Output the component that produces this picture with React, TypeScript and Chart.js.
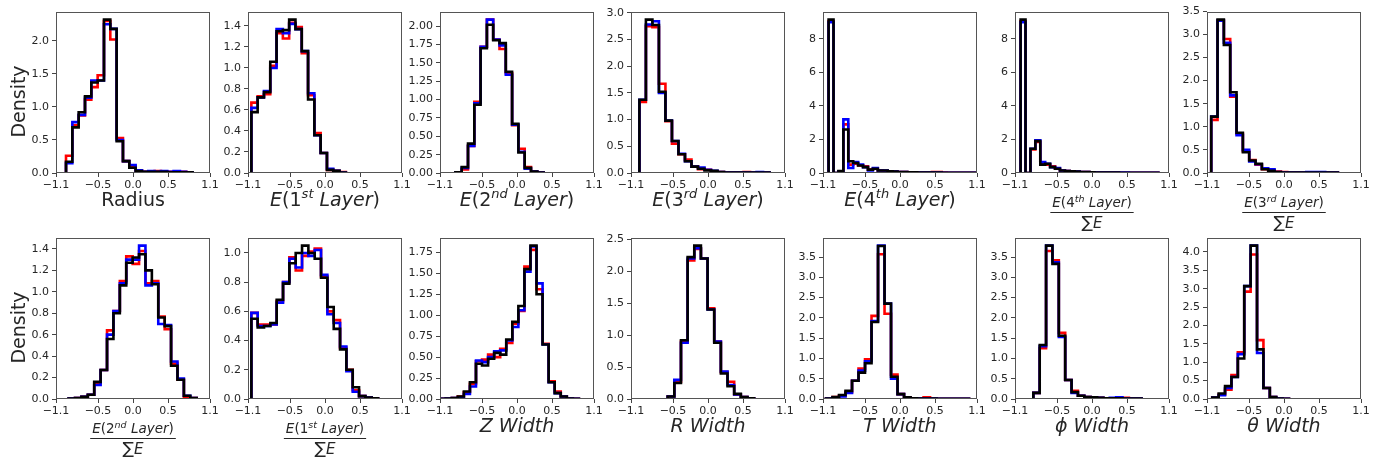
import React, { useEffect, useRef } from "react";
import { Chart, registerables } from "chart.js";
Chart.register(...registerables);

// ---------- axis ticks ----------
const X_TICKS = [-1.1, -0.5, 0, 0.5, 1.1];
const X_TICK_LABELS = ["\u22121.1", "\u22120.5", "0.0", "0.5", "1.1"];

const Y_TICKS_RADIUS = ["0.0", "0.5", "1.0", "1.5", "2.0"];
const Y_TICKS_E1 = ["0.0", "0.2", "0.4", "0.6", "0.8", "1.0", "1.2", "1.4"];
const Y_TICKS_E2 = ["0.00", "0.25", "0.50", "0.75", "1.00", "1.25", "1.50", "1.75", "2.00"];
const Y_TICKS_E3 = ["0.0", "0.5", "1.0", "1.5", "2.0", "2.5", "3.0"];
const Y_TICKS_E4 = ["0", "2", "4", "6", "8"];
const Y_TICKS_E4F = ["0", "2", "4", "6", "8"];
const Y_TICKS_E3F = ["0.0", "0.5", "1.0", "1.5", "2.0", "2.5", "3.0", "3.5"];
const Y_TICKS_E2F = ["0.0", "0.2", "0.4", "0.6", "0.8", "1.0", "1.2", "1.4"];
const Y_TICKS_E1F = ["0.0", "0.2", "0.4", "0.6", "0.8", "1.0"];
const Y_TICKS_ZW = ["0.00", "0.25", "0.50", "0.75", "1.00", "1.25", "1.50", "1.75"];
const Y_TICKS_RW = ["0.0", "0.5", "1.0", "1.5", "2.0", "2.5"];
const Y_TICKS_TW = ["0.0", "0.5", "1.0", "1.5", "2.0", "2.5", "3.0", "3.5"];
const Y_TICKS_PW = ["0.0", "0.5", "1.0", "1.5", "2.0", "2.5", "3.0", "3.5"];
const Y_TICKS_THW = ["0.0", "0.5", "1.0", "1.5", "2.0", "2.5", "3.0", "3.5", "4.0"];

// ---------- histogram bins (first edge, bin width) ----------
const BIN_START = [-0.957, -1.052, -0.88, -0.98, -1.02, -1.02, -1.04, -0.92, -1.052, -1.105, -0.576, -1.057, -0.838, -1.025];
const BIN_WIDTH = [0.0904, 0.09, 0.09, 0.093, 0.0703, 0.0703, 0.0905, 0.0915, 0.0905, 0.0865, 0.095, 0.0929, 0.091, 0.0914];

// ---------- densities ----------
const RADIUS_RED = [0.26, 0.72, 0.87, 1.11, 1.30, 1.48, 2.30, 2.02, 0.53, 0.18, 0.10, 0.04, 0.02, 0.02, 0.03, 0.02, 0.02, 0.02, 0.02, 0.01];
const RADIUS_BLUE = [0.15, 0.77, 0.88, 1.14, 1.40, 1.40, 2.25, 2.18, 0.50, 0.18, 0.12, 0.04, 0.02, 0.03, 0.02, 0.03, 0.02, 0.03, 0.02, 0.01];
const RADIUS_BLACK = [0.17, 0.69, 0.92, 1.16, 1.37, 1.40, 2.32, 2.18, 0.48, 0.18, 0.08, 0.03, 0.02, 0.02, 0.02, 0.02, 0.01, 0.01, 0.01, 0.01];

const E1_RED = [0.67, 0.73, 0.75, 1.02, 1.33, 1.28, 1.43, 1.39, 1.14, 0.74, 0.38, 0.19, 0.03, 0.02, 0.01];
const E1_BLUE = [0.62, 0.72, 0.78, 1.00, 1.37, 1.33, 1.42, 1.37, 1.16, 0.76, 0.36, 0.19, 0.04, 0.02, 0.005];
const E1_BLACK = [0.58, 0.72, 0.77, 1.06, 1.35, 1.36, 1.46, 1.37, 1.16, 0.70, 0.36, 0.19, 0.03, 0.02, 0.005];

const E2_RED = [0.01, 0.05, 0.37, 0.97, 1.72, 2.09, 1.82, 1.69, 1.36, 0.65, 0.33, 0.08, 0.02, 0.01];
const E2_BLUE = [0.01, 0.07, 0.37, 0.95, 1.72, 2.09, 1.82, 1.74, 1.34, 0.66, 0.29, 0.06, 0.02, 0.005];
const E2_BLACK = [0.01, 0.08, 0.40, 0.93, 1.70, 2.02, 1.81, 1.77, 1.38, 0.67, 0.28, 0.07, 0.02, 0.005];

const E3_RED = [1.33, 2.75, 2.73, 1.67, 0.97, 0.55, 0.35, 0.25, 0.12, 0.07, 0.06, 0.03, 0.02, 0.01, 0.01, 0.01, 0.02, 0.01, 0.01, 0.01];
const E3_BLUE = [1.37, 2.78, 2.84, 1.50, 0.98, 0.60, 0.36, 0.22, 0.12, 0.10, 0.06, 0.04, 0.02, 0.01, 0.01, 0.01, 0.01, 0.01, 0.02, 0.01];
const E3_BLACK = [1.37, 2.87, 2.77, 1.52, 0.98, 0.60, 0.35, 0.22, 0.12, 0.08, 0.05, 0.04, 0.02, 0.01, 0.01, 0.01, 0.01, 0.01, 0.01, 0.01];

const E4_RED = [9.05, 0, 0.10, 2.9, 0.5, 0.55, 0.45, 0.40, 0.20, 0.25, 0.15, 0.12, 0.10, 0.08, 0.06, 0.05, 0.04, 0.04, 0.03, 0.03, 0.03, 0.05, 0.05, 0.02, 0.01, 0.01, 0.01, 0.01, 0.01, 0.01];
const E4_BLUE = [9.0, 0, 0.10, 3.2, 0.3, 0.65, 0.50, 0.35, 0.15, 0.30, 0.15, 0.15, 0.10, 0.08, 0.06, 0.05, 0.04, 0.03, 0.03, 0.03, 0.02, 0.03, 0.02, 0.01, 0.01, 0.01, 0.01, 0.01, 0.01, 0.01];
const E4_BLACK = [9.15, 0, 0.12, 2.6, 0.7, 0.60, 0.45, 0.35, 0.20, 0.25, 0.15, 0.15, 0.10, 0.08, 0.06, 0.05, 0.04, 0.04, 0.03, 0.03, 0.02, 0.03, 0.02, 0.01, 0.01, 0.01, 0.01, 0.01, 0.01, 0.01];

const E4F_RED = [9.05, 0, 1.40, 1.85, 0.55, 0.50, 0.40, 0.25, 0.15, 0.12, 0.08, 0.07, 0.06, 0.05, 0.04, 0.03, 0.02, 0.02, 0.02, 0.02, 0.01, 0.01, 0.01, 0.01, 0.01, 0.01, 0.01, 0.01];
const E4F_BLUE = [9.0, 0, 1.45, 1.95, 0.65, 0.55, 0.35, 0.30, 0.15, 0.12, 0.10, 0.08, 0.06, 0.05, 0.04, 0.03, 0.03, 0.03, 0.03, 0.02, 0.02, 0.02, 0.01, 0.01, 0.01, 0.01, 0.01, 0.01];
const E4F_BLACK = [9.15, 0, 1.45, 1.90, 0.50, 0.55, 0.35, 0.25, 0.15, 0.12, 0.10, 0.08, 0.06, 0.05, 0.04, 0.03, 0.03, 0.02, 0.02, 0.02, 0.01, 0.01, 0.01, 0.01, 0.01, 0.01, 0.01, 0.01];

const E3F_RED = [1.15, 3.30, 2.90, 1.65, 0.85, 0.47, 0.28, 0.18, 0.08, 0.05, 0.03, 0.02, 0.01, 0.01, 0.01, 0.01, 0.01, 0.01, 0.01, 0.01];
const E3F_BLUE = [1.22, 3.30, 2.82, 1.68, 0.82, 0.50, 0.25, 0.19, 0.10, 0.08, 0.02, 0.01, 0.01, 0.01, 0.01, 0.02, 0.02, 0.02, 0.01, 0.01];
const E3F_BLACK = [1.22, 3.32, 2.77, 1.75, 0.87, 0.45, 0.27, 0.20, 0.08, 0.05, 0.02, 0.01, 0.01, 0.01, 0.01, 0.01, 0.01, 0.01, 0.01, 0.01];

const E2F_RED = [0.005, 0.01, 0.02, 0.04, 0.15, 0.27, 0.64, 0.82, 1.10, 1.33, 1.26, 1.38, 1.08, 1.10, 0.77, 0.65, 0.33, 0.18, 0.01, 0.01];
const E2F_BLUE = [0.005, 0.01, 0.02, 0.04, 0.13, 0.27, 0.60, 0.82, 1.08, 1.30, 1.30, 1.43, 1.06, 1.08, 0.70, 0.69, 0.35, 0.19, 0.03, 0.01];
const E2F_BLACK = [0.005, 0.01, 0.02, 0.04, 0.16, 0.27, 0.56, 0.80, 1.06, 1.27, 1.32, 1.35, 1.20, 1.07, 0.76, 0.68, 0.31, 0.18, 0.03, 0.01];

const E1F_RED = [0.59, 0.51, 0.51, 0.51, 0.67, 0.80, 0.97, 0.88, 0.98, 1.01, 1.03, 0.84, 0.60, 0.54, 0.35, 0.20, 0.06, 0.02, 0.01, 0.005];
const E1F_BLUE = [0.59, 0.50, 0.50, 0.51, 0.66, 0.80, 0.96, 0.90, 1.00, 0.98, 1.02, 0.85, 0.58, 0.52, 0.36, 0.19, 0.05, 0.02, 0.01, 0.005];
const E1F_BLACK = [0.55, 0.49, 0.50, 0.52, 0.68, 0.79, 0.93, 1.00, 1.05, 1.00, 0.96, 0.83, 0.63, 0.48, 0.34, 0.20, 0.08, 0.02, 0.01, 0.005];

const ZW_RED = [0.003, 0.005, 0.01, 0.03, 0.08, 0.18, 0.45, 0.47, 0.53, 0.50, 0.60, 0.67, 0.90, 1.05, 1.58, 1.78, 1.31, 0.66, 0.21, 0.09, 0.03, 0.005, 0.003];
const ZW_BLUE = [0.003, 0.005, 0.01, 0.02, 0.06, 0.15, 0.46, 0.44, 0.50, 0.57, 0.58, 0.70, 0.86, 1.06, 1.52, 1.82, 1.38, 0.65, 0.20, 0.07, 0.03, 0.005, 0.003];
const ZW_BLACK = [0.003, 0.005, 0.01, 0.03, 0.09, 0.20, 0.42, 0.40, 0.48, 0.55, 0.53, 0.71, 0.92, 1.11, 1.55, 1.83, 1.25, 0.65, 0.20, 0.07, 0.03, 0.005, 0.003];

const RW_RED = [0.04, 0.27, 0.90, 2.17, 2.35, 2.20, 1.42, 0.90, 0.42, 0.27, 0.07, 0.03, 0.01];
const RW_BLUE = [0.04, 0.30, 0.88, 2.20, 2.36, 2.20, 1.40, 0.90, 0.43, 0.22, 0.07, 0.03, 0.01];
const RW_BLACK = [0.04, 0.25, 0.92, 2.22, 2.40, 2.20, 1.40, 0.88, 0.40, 0.20, 0.08, 0.03, 0.01];

const TW_RED = [0.01, 0.05, 0.08, 0.17, 0.45, 0.75, 0.98, 2.05, 3.57, 2.10, 0.60, 0.12, 0.04, 0.02, 0.02, 0.04, 0.01, 0.005, 0.005, 0.005, 0.005, 0.005];
const TW_BLUE = [0.01, 0.04, 0.06, 0.15, 0.45, 0.70, 0.93, 1.92, 3.78, 2.35, 0.50, 0.12, 0.03, 0.02, 0.01, 0.01, 0.01, 0.005, 0.005, 0.005, 0.005, 0.005];
const TW_BLACK = [0.01, 0.05, 0.10, 0.20, 0.45, 0.65, 0.88, 1.90, 3.77, 2.35, 0.55, 0.12, 0.04, 0.02, 0.01, 0.01, 0.01, 0.005, 0.005, 0.005, 0.005, 0.005];

const PW_RED = [0.15, 1.25, 3.65, 3.42, 1.63, 0.47, 0.20, 0.08, 0.05, 0.04, 0.03, 0.02, 0.02, 0.02, 0.03, 0.01, 0.01];
const PW_BLUE = [0.15, 1.30, 3.78, 3.37, 1.53, 0.47, 0.15, 0.08, 0.05, 0.04, 0.03, 0.02, 0.03, 0.04, 0.01, 0.01, 0.01];
const PW_BLACK = [0.15, 1.33, 3.78, 3.33, 1.56, 0.47, 0.17, 0.08, 0.05, 0.04, 0.03, 0.02, 0.02, 0.02, 0.01, 0.01, 0.01];

const THW_RED = [0.04, 0.12, 0.25, 0.65, 1.27, 2.92, 3.93, 1.60, 0.30, 0.05, 0.01, 0.005];
const THW_BLUE = [0.04, 0.10, 0.30, 0.60, 1.22, 3.07, 4.17, 1.25, 0.30, 0.05, 0.01, 0.005];
const THW_BLACK = [0.04, 0.15, 0.35, 0.60, 1.10, 3.07, 4.17, 1.35, 0.30, 0.05, 0.01, 0.005];

// ---------- titles (segments: r = upright, i = italic, si = italic superscript) ----------
type Seg = [string, string];
const T_RADIUS: Seg[] = [["Radius", "r"]];
const T_E1: Seg[] = [["E", "i"], ["(1", "r"], ["st", "si"], [" Layer", "i"], [")", "r"]];
const T_E2: Seg[] = [["E", "i"], ["(2", "r"], ["nd", "si"], [" Layer", "i"], [")", "r"]];
const T_E3: Seg[] = [["E", "i"], ["(3", "r"], ["rd", "si"], [" Layer", "i"], [")", "r"]];
const T_E4: Seg[] = [["E", "i"], ["(4", "r"], ["th", "si"], [" Layer", "i"], [")", "r"]];
const T_ZW: Seg[] = [["Z Width", "i"]];
const T_RW: Seg[] = [["R Width", "i"]];
const T_TW: Seg[] = [["T Width", "i"]];
const T_PW: Seg[] = [["\u03d5 Width", "i"]];
const T_THW: Seg[] = [["\u03b8 Width", "i"]];
const DENOM: Seg[] = [["\u2211", "r"], ["E", "i"]];

const Y_LABEL = "Density";

const PANELS = [
  { title: T_RADIUS, frac: false, red: RADIUS_RED, blue: RADIUS_BLUE, black: RADIUS_BLACK, yTicks: Y_TICKS_RADIUS },
  { title: T_E1, frac: false, red: E1_RED, blue: E1_BLUE, black: E1_BLACK, yTicks: Y_TICKS_E1 },
  { title: T_E2, frac: false, red: E2_RED, blue: E2_BLUE, black: E2_BLACK, yTicks: Y_TICKS_E2 },
  { title: T_E3, frac: false, red: E3_RED, blue: E3_BLUE, black: E3_BLACK, yTicks: Y_TICKS_E3 },
  { title: T_E4, frac: false, red: E4_RED, blue: E4_BLUE, black: E4_BLACK, yTicks: Y_TICKS_E4 },
  { title: T_E4, frac: true, red: E4F_RED, blue: E4F_BLUE, black: E4F_BLACK, yTicks: Y_TICKS_E4F },
  { title: T_E3, frac: true, red: E3F_RED, blue: E3F_BLUE, black: E3F_BLACK, yTicks: Y_TICKS_E3F },
  { title: T_E2, frac: true, red: E2F_RED, blue: E2F_BLUE, black: E2F_BLACK, yTicks: Y_TICKS_E2F },
  { title: T_E1, frac: true, red: E1F_RED, blue: E1F_BLUE, black: E1F_BLACK, yTicks: Y_TICKS_E1F },
  { title: T_ZW, frac: false, red: ZW_RED, blue: ZW_BLUE, black: ZW_BLACK, yTicks: Y_TICKS_ZW },
  { title: T_RW, frac: false, red: RW_RED, blue: RW_BLUE, black: RW_BLACK, yTicks: Y_TICKS_RW },
  { title: T_TW, frac: false, red: TW_RED, blue: TW_BLUE, black: TW_BLACK, yTicks: Y_TICKS_TW },
  { title: T_PW, frac: false, red: PW_RED, blue: PW_BLUE, black: PW_BLACK, yTicks: Y_TICKS_PW },
  { title: T_THW, frac: false, red: THW_RED, blue: THW_BLUE, black: THW_BLACK, yTicks: Y_TICKS_THW },
];

// ---------- layout ----------
const FONT = '"DejaVu Sans"';
const TEXT = "#262626";
const PLOT_W = 154;
const PLOT_H = 161;
const LEFT_AX = 55;
const PAD_TOP = 8;
const PAD_RIGHT = 14;
const BOTTOM_AX = 62;
const COL_X0 = 56;
const COL_STEP = 191.83;
const ROW_Y = [12, 238];

function stepPoints(start: number, width: number, vals: number[]) {
  const pts: { x: number; y: number }[] = [{ x: start, y: 0 }];
  vals.forEach((v, i) => pts.push({ x: start + i * width, y: v }));
  pts.push({ x: start + vals.length * width, y: 0 });
  return pts;
}

function drawSegs(ctx: CanvasRenderingContext2D, segs: Seg[], cx: number, base: number, size: number, supSize: number, supRaise: number, measureOnly = false) {
  const parts = segs.map(([t, s]) => {
    const sup = s.startsWith("s");
    const it = s.endsWith("i");
    const font = `${it ? "italic " : ""}${sup ? supSize : size}px ${FONT}`;
    ctx.font = font;
    return { t, font, w: ctx.measureText(t).width, dy: sup ? -supRaise : 0 };
  });
  const total = parts.reduce((a, p) => a + p.w, 0);
  if (!measureOnly) {
    let x = cx - total / 2;
    ctx.textAlign = "left";
    ctx.textBaseline = "alphabetic";
    ctx.fillStyle = TEXT;
    for (const p of parts) {
      ctx.font = p.font;
      ctx.fillText(p.t, x, base + p.dy);
      x += p.w;
    }
  }
  return total;
}

function Panel({ index }: { index: number }) {
  const ref = useRef<HTMLCanvasElement | null>(null);
  const p = PANELS[index];
  const col = index % 7;
  const row = Math.floor(index / 7);
  const left = Math.round(COL_X0 + col * COL_STEP) - LEFT_AX;
  const top = ROW_Y[row] - PAD_TOP;
  const W = LEFT_AX + PLOT_W + PAD_RIGHT;
  const H = PAD_TOP + PLOT_H + BOTTOM_AX;

  useEffect(() => {
    const canvas = ref.current;
    if (!canvas) return;
    const start = BIN_START[index];
    const width = BIN_WIDTH[index];
    const yMax = Math.max(...p.red, ...p.blue, ...p.black) * 1.05;
    const yVals = p.yTicks.map((s) => parseFloat(s));
    const mk = (vals: number[], color: string, order: number) => ({
      data: stepPoints(start, width, vals),
      borderColor: color,
      backgroundColor: color,
      borderWidth: 2.6,
      pointRadius: 0,
      fill: false,
      stepped: true as const,
      tension: 0,
      order,
      borderJoinStyle: "miter" as const,
    });
    const framePlugin = {
      id: "frame" + index,
      afterDraw(chart: any) {
        const ctx: CanvasRenderingContext2D = chart.ctx;
        const a = chart.chartArea;
        ctx.save();
        ctx.strokeStyle = "#555";
        ctx.lineWidth = 1;
        ctx.strokeRect(Math.round(a.left) + 0.5, Math.round(a.top) + 0.5, Math.round(a.right - a.left) - 1, Math.round(a.bottom - a.top) - 1);
        const cx = (a.left + a.right) / 2;
        if (!p.frac) {
          drawSegs(ctx, p.title, cx, a.bottom + 33, 19, 13, 8);
        } else {
          const w = drawSegs(ctx, p.title, cx, a.bottom + 34, 13.5, 9.5, 5.5);
          ctx.strokeStyle = TEXT;
          ctx.lineWidth = 1;
          ctx.beginPath();
          ctx.moveTo(cx - w / 2 - 2, Math.round(a.bottom + 38.5) + 0.5);
          ctx.lineTo(cx + w / 2 + 2, Math.round(a.bottom + 38.5) + 0.5);
          ctx.stroke();
          // denominator
          ctx.font = `17px ${FONT}`;
          const ws = ctx.measureText(DENOM[0][0]).width;
          ctx.font = `italic 15px ${FONT}`;
          const we = ctx.measureText(DENOM[1][0]).width;
          let x = cx - (ws + we) / 2;
          ctx.fillStyle = TEXT;
          ctx.textAlign = "left";
          ctx.textBaseline = "alphabetic";
          ctx.font = `17px ${FONT}`;
          ctx.fillText(DENOM[0][0], x, a.bottom + 55);
          x += ws;
          ctx.font = `italic 15px ${FONT}`;
          ctx.fillText(DENOM[1][0], x, a.bottom + 55);
        }
        if (col === 0) {
          ctx.save();
          ctx.translate(a.left - 31, a.top + 89.5);
          ctx.rotate(-Math.PI / 2);
          ctx.font = `19px ${FONT}`;
          ctx.fillStyle = TEXT;
          ctx.textAlign = "center";
          ctx.textBaseline = "alphabetic";
          ctx.fillText(Y_LABEL, 0, 0);
          ctx.restore();
        }
        ctx.restore();
      },
    };
    const chart = new Chart(canvas, {
      type: "line",
      data: {
        datasets: [mk(p.black, "#000000", 0), mk(p.blue, "#0000ff", 1), mk(p.red, "#ff0000", 2)],
      },
      options: {
        animation: false,
        responsive: false,
        events: [],
        layout: { padding: { left: 0, right: PAD_RIGHT, top: PAD_TOP, bottom: 0 } },
        plugins: { legend: { display: false }, tooltip: { enabled: false } },
        scales: {
          x: {
            type: "linear",
            min: -1.1,
            max: 1.1,
            afterBuildTicks: (s: any) => {
              s.ticks = X_TICKS.map((v) => ({ value: v }));
            },
            afterFit: (s: any) => {
              s.height = BOTTOM_AX;
              s.paddingLeft = 0;
              s.paddingRight = 0;
            },
            ticks: {
              autoSkip: false,
              maxRotation: 0,
              minRotation: 0,
              padding: 2,
              color: TEXT,
              font: { family: "DejaVu Sans", size: 11 },
              callback: (_v: any, i: number) => X_TICK_LABELS[i],
            },
            grid: { drawOnChartArea: false, drawTicks: true, tickLength: 4, color: "#444", lineWidth: 1 },
            border: { display: false },
          },
          y: {
            type: "linear",
            min: 0,
            max: yMax,
            afterBuildTicks: (s: any) => {
              s.ticks = yVals.map((v) => ({ value: v }));
            },
            afterFit: (s: any) => {
              s.width = LEFT_AX;
              s.paddingTop = 0;
              s.paddingBottom = 0;
            },
            ticks: {
              autoSkip: false,
              padding: 3,
              color: TEXT,
              font: { family: "DejaVu Sans", size: 11 },
              callback: (_v: any, i: number) => p.yTicks[i],
            },
            grid: { drawOnChartArea: false, drawTicks: true, tickLength: 4, color: "#444", lineWidth: 1 },
            border: { display: false },
          },
        },
      },
      plugins: [framePlugin],
    } as any);
    return () => chart.destroy();
  }, [index]);

  return (
    <canvas
      ref={ref}
      width={W}
      height={H}
      style={{ position: "absolute", left, top, width: W, height: H }}
    />
  );
}

export default function App() {
  return (
    <div
      style={{
        position: "absolute",
        left: 0,
        top: 0,
        width: 1375,
        height: 460,
        overflow: "hidden",
        background: "#ffffff",
      }}
    >
      {PANELS.map((_, i) => (
        <Panel key={i} index={i} />
      ))}
    </div>
  );
}
